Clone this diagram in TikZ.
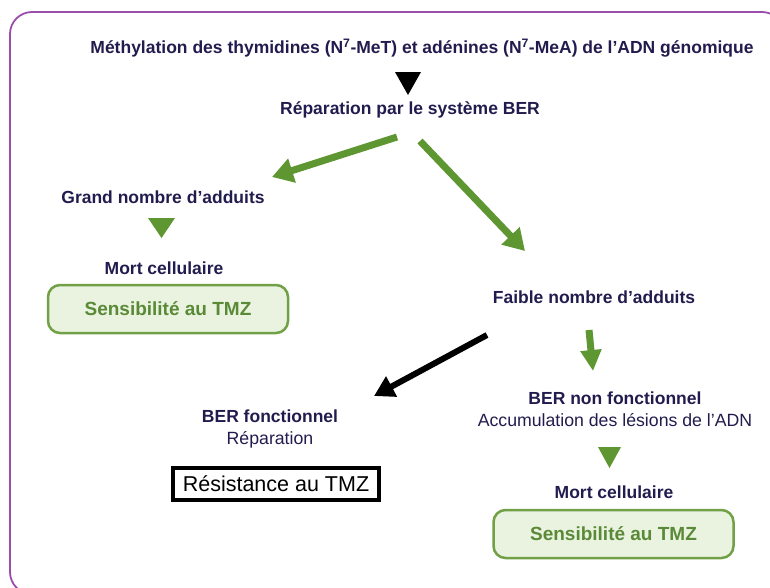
\documentclass[tikz,border=0pt]{standalone}
\usepackage{fontspec}
\setmainfont{Liberation Sans}
\usetikzlibrary{arrows.meta}
\definecolor{navy}{HTML}{221C4E}
\definecolor{grn}{HTML}{5E9632}
\definecolor{gtext}{HTML}{5A8A38}
\definecolor{gfill}{HTML}{EAF3DF}
\definecolor{gline}{HTML}{72A046}
\definecolor{purp}{HTML}{9A4DAA}
\tikzset{
  lbl/.style={font=\fontsize{17.5}{20}\selectfont\bfseries, text=navy, inner sep=0pt},
  lblr/.style={font=\fontsize{17.7}{20}\selectfont, text=navy, inner sep=0pt},
  sensbox/.style={draw=gline, line width=2.5pt, fill=gfill, rounded corners=12pt,
     minimum width=240pt, minimum height=48pt, text=gtext,
     font=\fontsize{19}{22}\selectfont\bfseries},
  resbox/.style={draw=black, line width=4pt, minimum width=206pt, minimum height=32pt,
     font=\fontsize{21.5}{24}\selectfont, text=black},
  garrow/.style={draw=grn, line width=7pt, -{Triangle[length=21pt,width=24pt]}},
  barrow/.style={draw=black, line width=6pt, -{Triangle[length=20pt,width=22pt]}}
}
\begin{document}
\begin{tikzpicture}[x=1pt,y=-1pt]
\useasboundingbox (0,0) rectangle (770,587);
\begin{scope}
\clip (0,0) rectangle (770,587);
\draw[purp, line width=1.8pt, rounded corners=22pt] (10,12) rectangle (784,594);
\end{scope}

\node[lbl] (title) at (422,48) {Méthylation des thymidines (N\textsuperscript{7}-MeT) et adénines (N\textsuperscript{7}-MeA) de l’ADN génomique};
\fill[black] (395,72) -- (421,72) -- (408,95) -- cycle;
\node[lbl] (ber) at (410,110) {Réparation par le système BER};

\node[lbl] (grand) at (163,197) {Grand nombre d’adduits};
\fill[grn] (148,218) -- (175,218) -- (161.5,238) -- cycle;
\node[lbl] (mort1) at (164,268) {Mort cellulaire};
\node[sensbox] (sens1) at (168,309) {Sensibilité au TMZ};

\node[lbl] (faible) at (594,297) {Faible nombre d’adduits};
\node[lbl] (bernon) at (615,398) {BER non fonctionnel};
\node[lblr] (accu) at (615,420) {Accumulation des lésions de l’ADN};
\fill[grn] (598,447) -- (621,447) -- (609.5,468) -- cycle;
\node[lbl] (mort2) at (614,492) {Mort cellulaire};
\node[sensbox] (sens2) at (613.5,534) {Sensibilité au TMZ};

\node[lbl] (berf) at (270,416) {BER fonctionnel};
\node[lblr] (rep) at (270,440) {Réparation};
\node[resbox] (res) at (276,484) {Résistance au TMZ};

\coordinate (a1s) at (397,137);
\coordinate (a1e) at (272,177);
\coordinate (a2s) at (420,141);
\coordinate (a2e) at (525,251);
\coordinate (a3s) at (589,330);
\coordinate (a3e) at (593,371);
\coordinate (a4s) at (487,335);
\coordinate (a4e) at (374,396);
\draw[garrow] (a1s) -- (a1e);
\draw[garrow] (a2s) -- (a2e);
\draw[draw=grn, line width=7pt, -{Triangle[length=21pt,width=20pt]}] (a3s) -- (a3e);
\draw[barrow] (a4s) -- (a4e);
\end{tikzpicture}
\end{document}
